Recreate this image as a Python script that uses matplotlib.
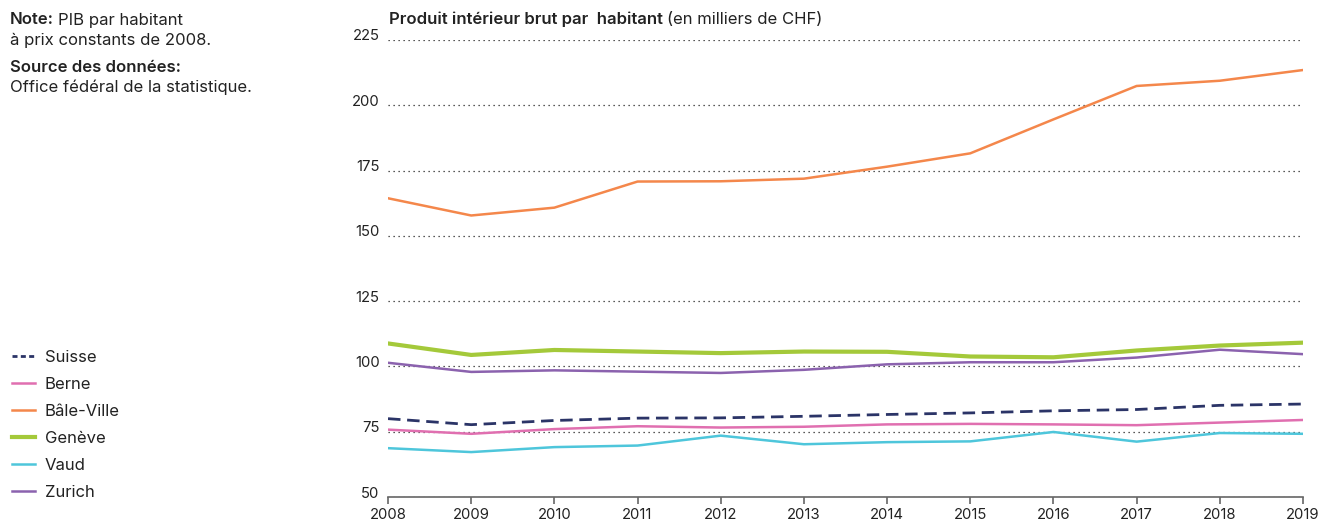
import matplotlib
matplotlib.use("Agg")
import matplotlib.pyplot as plt
import matplotlib.transforms as mtransforms
from matplotlib.lines import Line2D

# Data (milliers de CHF)
years = list(range(2008, 2020))
suisse = [80.0, 77.7, 79.3, 80.2, 80.3, 80.9, 81.6, 82.2, 83.0, 83.5, 85.1, 85.6]
berne = [75.8, 74.2, 76.0, 77.1, 76.6, 76.9, 77.8, 78.0, 77.8, 77.5, 78.5, 79.5]
bale_ville = [164.4, 157.8, 160.8, 170.8, 170.9, 171.9, 176.5, 181.6, 194.6, 207.4, 209.4, 213.5]
geneve = [108.8, 104.4, 106.3, 105.7, 105.1, 105.7, 105.6, 103.8, 103.5, 106.1, 108.0, 109.1]
vaud = [68.7, 67.2, 69.1, 69.7, 73.5, 70.2, 71.0, 71.3, 74.9, 71.2, 74.5, 74.2]
zurich = [101.4, 97.9, 98.5, 98.0, 97.5, 98.7, 100.8, 101.6, 101.6, 103.4, 106.4, 104.7]
y_ticks = [50, 75, 100, 125, 150, 175, 200, 225]

plt.rcParams['font.family'] = ['Inter', 'DejaVu Sans']
text_color = '#222222'
FS = 12        # body text (note, title, legend)
FS_TICK = 10.7

fig = plt.figure(figsize=(13.22, 5.2), dpi=100)
ax = fig.add_axes([388 / 1322, 23 / 520, 915 / 1322, 457 / 520])

# name, values, colour, width, plot dash, legend dash
series = [
    ("Suisse", suisse, '#2b3467', 2.0, (0, (4.5, 2.4)), (0, (1.8, 1.2))),
    ("Berne", berne, '#e06fb0', 1.8, '-', '-'),
    ("Bâle-Ville", bale_ville, '#f4874b', 1.8, '-', '-'),
    ("Genève", geneve, '#a4c93a', 3.0, '-', '-'),
    ("Vaud", vaud, '#4ec6db', 1.8, '-', '-'),
    ("Zurich", zurich, '#8b62ae', 1.8, '-', '-'),
]

for name, vals, col, lw, ls, _ in series:
    ax.plot(years, vals, color=col, linewidth=lw, linestyle=ls, label=name, zorder=3)

ax.set_xlim(2008, 2019)
ax.set_ylim(50, 225)
ax.set_yticks(y_ticks)
ax.set_xticks(years)
ax.yaxis.grid(True, linestyle=(0, (1, 3)), color='#222222', linewidth=0.9)
ax.set_axisbelow(True)
for s in ['left', 'right', 'top']:
    ax.spines[s].set_visible(False)
ax.spines['bottom'].set_color('#666666')
ax.spines['bottom'].set_linewidth(1.2)
ax.tick_params(axis='y', length=0, pad=6, labelsize=FS_TICK, labelcolor=text_color)
ax.tick_params(axis='x', length=5, width=1.2, color='#666666', pad=3, labelsize=FS_TICK, labelcolor=text_color)
# y labels sit slightly above their grid lines
shift = mtransforms.ScaledTranslation(0, 5 / 100, fig.dpi_scale_trans)
for lab in ax.get_yticklabels():
    lab.set_transform(lab.get_transform() + shift)

renderer = fig.canvas.get_renderer()


def two_part(x, y, bold_txt, reg_txt, gap=4):
    t = fig.text(x / 1322, 1 - y / 520, bold_txt, fontsize=FS, fontweight='semibold',
                 color=text_color, va='center', ha='left')
    bb = t.get_window_extent(renderer)
    fig.text((bb.x1 + gap) / 1322, 1 - y / 520, reg_txt, fontsize=FS,
             color=text_color, va='center', ha='left')


# Title above the plot
two_part(389, 19, "Produit intérieur brut par  habitant", "(en milliers de CHF)")

# Note and source
two_part(10, 20, "Note:", "PIB par habitant")
fig.text(10 / 1322, 1 - 40 / 520, "à prix constants de 2008.", fontsize=FS, color=text_color, va='center')
fig.text(10 / 1322, 1 - 67 / 520, "Source des données:", fontsize=FS, fontweight='semibold',
         color=text_color, va='center')
fig.text(10 / 1322, 1 - 87 / 520, "Office fédéral de la statistique.", fontsize=FS, color=text_color, va='center')

# Legend on the left
handles = [Line2D([0], [0], color=col, linewidth=lw, linestyle=lls) for _, _, col, lw, _, lls in series]
labels = [s[0] for s in series]
fig.legend(handles, labels, loc='upper left', bbox_to_anchor=(-3 / 1322, 1 - 335 / 520),
           frameon=False, fontsize=FS, handlelength=1.35, handletextpad=0.6,
           labelspacing=0.72, labelcolor=text_color)

fig.savefig("out.png", dpi=100)
